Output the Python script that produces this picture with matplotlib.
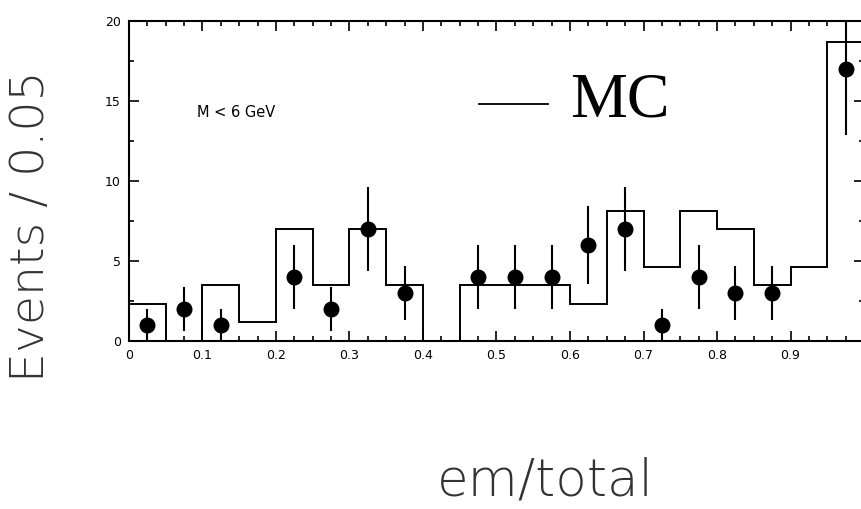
import numpy as np
import matplotlib.pyplot as plt
from matplotlib.ticker import MultipleLocator

# MC expectation per 0.05 bin of em/total
bin_edges = np.linspace(0.0, 1.0, 21)
mc_counts = [2.3, 0.0, 3.5, 1.2, 7.0, 3.5, 7.0, 3.5, 0.0, 3.5,
             3.5, 3.5, 2.3, 8.1, 4.6, 8.1, 7.0, 3.5, 4.6, 18.7]

# observed events (bin centres) with their errors
data_x = [0.025, 0.075, 0.125, 0.225, 0.275, 0.325, 0.375, 0.475, 0.525,
          0.575, 0.625, 0.675, 0.725, 0.775, 0.825, 0.875, 0.975]
data_y = [1, 2, 1, 4, 2, 7, 3, 4, 4, 4, 6, 7, 1, 4, 3, 3, 17]
data_err = [1.0, 1.4, 1.0, 2.0, 1.4, 2.65, 1.7, 2.0, 2.0, 2.0, 2.45, 2.65,
            1.0, 2.0, 1.7, 1.7, 4.1]

fig = plt.figure(figsize=(8.61, 5.09), dpi=100)
ax = fig.add_axes([0.1498, 0.330, 0.8537, 0.6287])

ax.stairs(mc_counts, bin_edges, color='black', linewidth=1.4)
ax.errorbar(data_x, data_y, yerr=data_err, fmt='o', color='black',
            markersize=10.5, elinewidth=1.5, capsize=0)

ax.set_xlim(0, 1)
ax.set_ylim(0, 20)
ax.xaxis.set_major_locator(MultipleLocator(0.1))
ax.xaxis.set_minor_locator(MultipleLocator(0.025))
ax.yaxis.set_major_locator(MultipleLocator(5))
ax.yaxis.set_minor_locator(MultipleLocator(2.5))
ax.set_xticks(np.arange(0, 1.0, 0.1))
ax.set_xticklabels(['0', '0.1', '0.2', '0.3', '0.4', '0.5', '0.6', '0.7', '0.8', '0.9'])
ax.tick_params(which='both', direction='in', top=True, right=True,
               labelsize=9, width=1.2)
ax.tick_params(which='major', length=7.5, pad=6)
ax.tick_params(which='minor', length=3.8)
for sp in ax.spines.values():
    sp.set_linewidth(1.5)

ax.text(0.092, 14.3, 'M < 6 GeV', fontsize=10.5, va='center')

# legend entry drawn by hand
ax.plot([0.476, 0.570], [14.8, 14.8], color='black', linewidth=1.3)
ax.text(0.600, 15.0, 'MC', family='Liberation Serif', fontsize=46,
        va='center', ha='left')

fig.text(0.036, 0.556, 'Events / 0.05', rotation=90, fontsize=34,
         family='DejaVu Sans', fontweight='light', color='#333333',
         ha='center', va='center')
fig.text(0.633, 0.055, 'em/total', fontsize=37, family='DejaVu Sans',
         fontweight='light', color='#333333', ha='center', va='center')

fig.savefig('out.png', dpi=100)
